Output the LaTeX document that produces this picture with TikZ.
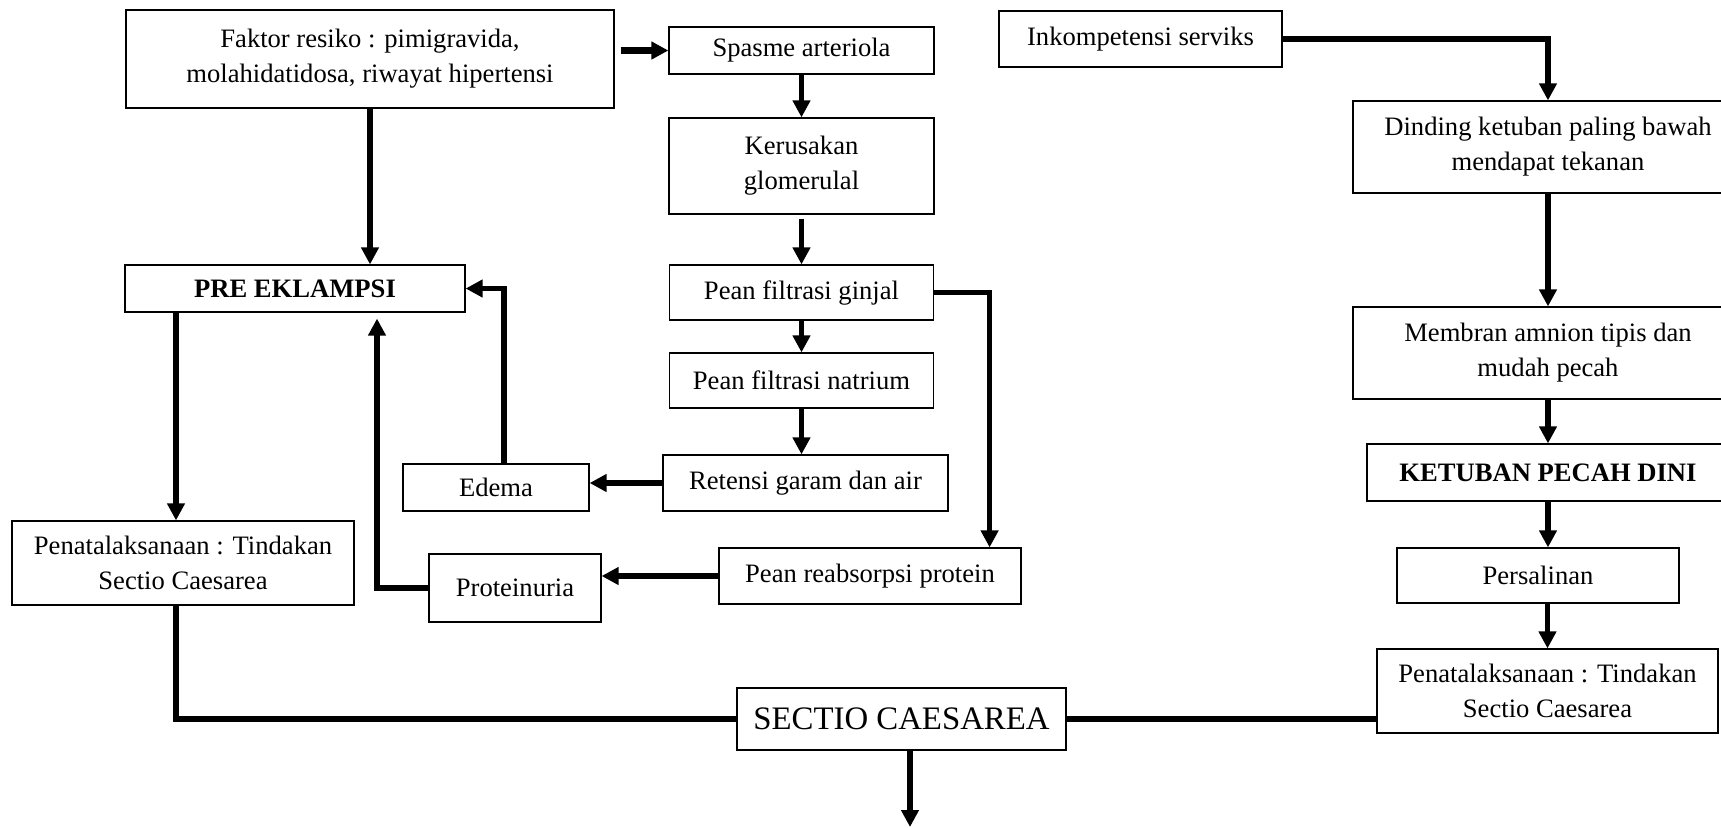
\documentclass[tikz,border=0pt]{standalone}
\usepackage{fontspec}
\setmainfont{Liberation Serif}
\usetikzlibrary{arrows.meta}

\begin{document}
\begin{tikzpicture}[x=0.5pt, y=-0.5pt,
  kotak/.style={draw, line width=0.6pt, align=center, inner sep=0pt,
    font=\fontsize{13.3pt}{17.5pt}\selectfont},
  panah/.style={line width=2.6pt, -{Triangle[length=8.5pt,width=8.5pt]}},
  tebal/.style={line width=3.4pt},
  garis/.style={line width=3pt}]
\useasboundingbox (0,0) rectangle (1721,827);

\node[kotak, minimum width=244pt, minimum height=49pt] (faktor) at (370,59)
  {Faktor resiko : pimigravida,\\molahidatidosa, riwayat hipertensi};
\node[kotak, minimum width=132.5pt, minimum height=23.5pt] (spasme) at (801.5,50.5) {Spasme arteriola};
\node[kotak, minimum width=132.5pt, minimum height=48pt] (kerusakan) at (801.5,166) {Kerusakan\\glomerulal};
\node[kotak, minimum width=132pt, minimum height=27.5pt] (ginjal) at (801.5,292.5) {Pean filtrasi ginjal};
\node[kotak, minimum width=132pt, minimum height=27.5pt] (natrium) at (801.5,380.5) {Pean filtrasi natrium};
\node[kotak, minimum width=142.5pt, minimum height=28pt] (retensi) at (805.5,483) {Retensi garam dan air};
\node[kotak, minimum width=93pt, minimum height=23.5pt] (edema) at (496,487.5) {Edema};
\node[kotak, minimum width=170pt, minimum height=23.5pt] (pre) at (295,288.5) {\textbf{PRE EKLAMPSI}};
\node[kotak, minimum width=171pt, minimum height=42pt] (penkiri) at (183,563)
  {Penatalaksanaan : Tindakan\\Sectio Caesarea};
\node[kotak, minimum width=86pt, minimum height=34pt] (protein) at (515,588) {Proteinuria};
\node[kotak, minimum width=151pt, minimum height=28pt] (reabsorpsi) at (870,576) {Pean reabsorpsi protein};
\node[kotak, minimum width=164.5pt, minimum height=31pt, font=\fontsize{16.4pt}{19pt}\selectfont]
  (sectio) at (901.5,719) {SECTIO CAESAREA};
\node[kotak, minimum width=141.5pt, minimum height=28pt] (inko) at (1140.5,39) {Inkompetensi serviks};
\node[kotak, minimum width=195pt, minimum height=46pt] (dinding) at (1548,147)
  {Dinding ketuban paling bawah\\mendapat tekanan};
\node[kotak, minimum width=195pt, minimum height=46pt] (membran) at (1548,353)
  {Membran amnion tipis dan\\mudah pecah};
\node[kotak, minimum width=181pt, minimum height=28.5pt] (ketuban) at (1548,472.5) {\textbf{KETUBAN PECAH DINI}};
\node[kotak, minimum width=141pt, minimum height=27.5pt] (persalinan) at (1538,575.5) {Persalinan};
\node[kotak, minimum width=170.5pt, minimum height=42pt] (penkanan) at (1547.5,691)
  {Penatalaksanaan : Tindakan\\Sectio Caesarea};
\coordinate (akhir) at (910,827);
\coordinate (kiriatas) at ([xshift=-3.5pt]penkiri.north);
\coordinate (kiribawah) at ([xshift=-3.5pt]penkiri.south);

\draw[panah] (faktor.south) -- (faktor.south |- pre.north);
\draw[panah, tebal] ([xshift=3pt]faktor.east |- spasme.west) -- (spasme.west);
\draw[panah] (spasme) -- (kerusakan);
\draw[panah] ([yshift=-2pt]kerusakan.south) -- (ginjal.north);
\draw[panah] (ginjal) -- (natrium);
\draw[panah] (natrium.south) -- (natrium.south |- retensi.north);
\draw[panah, tebal] (retensi.west) -- (retensi.west -| edema.east);
\draw[panah] (ginjal.east) -| ([xshift=-16pt]reabsorpsi.north east);
\draw[panah, tebal] (reabsorpsi.west) -- (reabsorpsi.west -| protein.east);
\draw[panah] (protein.west) -| ([xshift=41pt,yshift=-3pt]pre.south);
\draw[panah] ([xshift=4pt]edema.north) |- (pre.east);
\draw[panah] (pre.south -| kiriatas) -- (kiriatas);
\draw[garis] (kiribawah) |- (sectio.west);
\draw[garis, tebal] (sectio.east) -- (sectio.east -| penkanan.west);
\draw[panah] (sectio.south -| akhir) -- (akhir);
\draw[panah, tebal] (inko.east) -| (dinding.north);
\draw[panah] (dinding) -- (membran);
\draw[panah] (membran) -- (ketuban);
\draw[panah] (ketuban.south) -- (ketuban.south |- persalinan.north);
\draw[panah] (persalinan.south -| penkanan.north) -- (penkanan.north);
\end{tikzpicture}
\end{document}
